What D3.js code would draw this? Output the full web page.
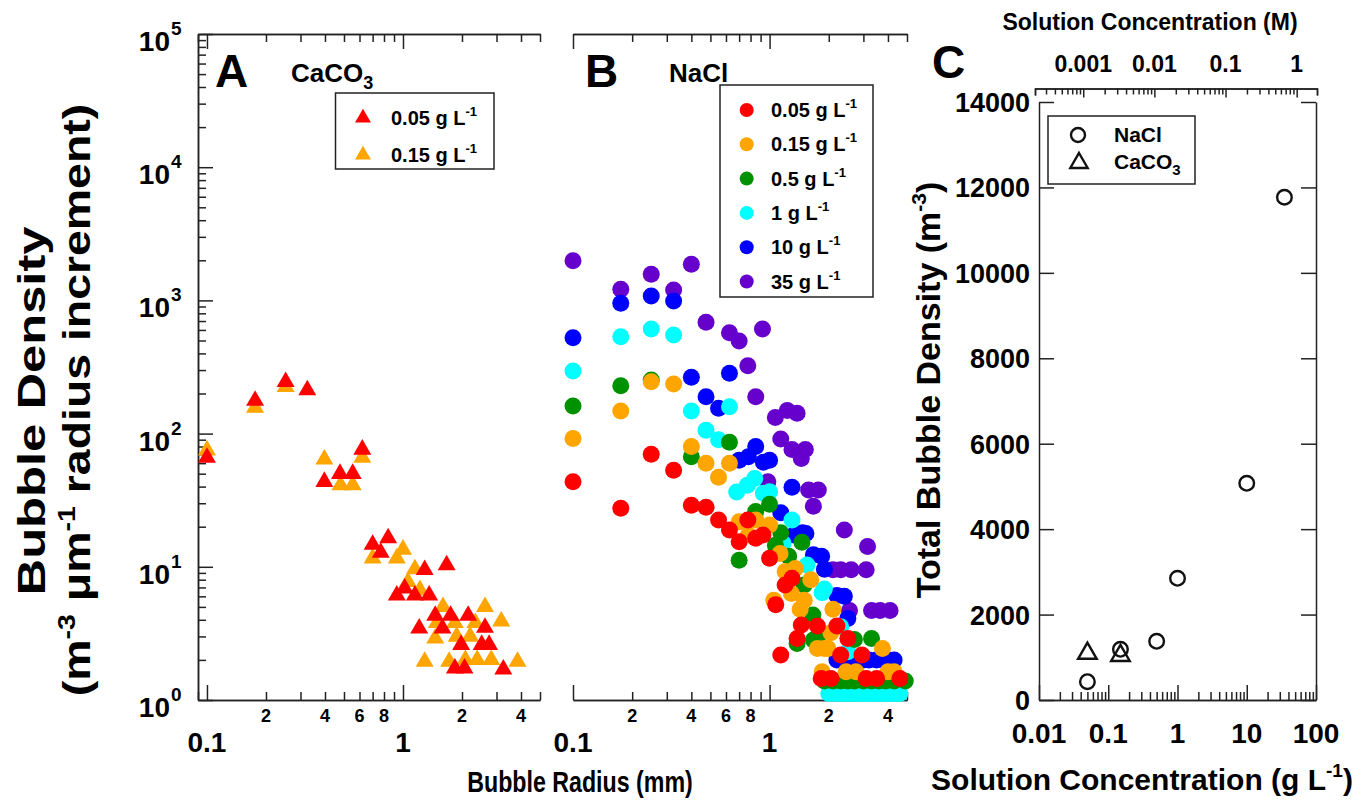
<!DOCTYPE html>
<html>
<head>
<meta charset="utf-8">
<script src="https://cdn.jsdelivr.net/npm/d3@7"></script>
<style>
  body { margin: 0; background: #fff; }
  text { font-family: "Liberation Sans", Arial, sans-serif; font-weight: bold; fill: #000; }
  .axis path, .axis line { stroke: #222; stroke-width: 1.5; }
</style>
</head>
<body>
<svg id="fig" width="1367" height="806"></svg>
<script>
// ---- panel A : CaCO3, [bubble radius mm, density] ----
var caco3_005 = [[0.1,66],[0.176,177],[0.252,245],[0.325,212],[0.397,43.5],[0.477,50],[0.554,50],[0.62,76],
  [0.70,14.7],[0.77,12.8],[0.84,16.4],[0.93,6.1],[1.02,6.9],[1.15,6.1],[1.29,9.5],[1.36,6.1],[1.21,3.45],
  [1.46,4.3],[1.59,3.45],[1.67,10.3],[1.75,4.3],[1.84,1.73],[1.98,2.6],[2.06,1.73],[2.15,4.3],[2.52,2.6],
  [2.62,3.5],[2.75,2.6],[3.25,1.7]];
var caco3_015 = [[0.1,75],[0.176,157],[0.252,225],[0.397,64],[0.48,41],[0.554,41],[0.62,66],[0.70,11.6],
  [0.93,11.6],[1.0,13.5],[1.06,7.7],[1.15,9.6],[1.22,6.7],[1.29,1.94],[1.46,2.9],[1.49,3.8],[1.6,5.0],
  [1.72,1.94],[1.84,3.8],[1.88,3.0],[2.08,2.0],[2.2,3.0],[2.34,3.8],[2.39,2.0],[2.62,5.0],[2.82,2.0],
  [3.17,3.9],[3.84,1.94]];

// ---- panel B : NaCl ----
var nacl_005 = [[0.1,43.5],[0.175,27.5],[0.25,70],[0.325,53],[0.4,29],[0.475,28],[0.55,22.5],[0.625,18.9],
  [0.7,15.4],[0.775,22.5],[0.85,16.4],[0.925,17.3],[1.0,11.6],[1.075,5.2],[1.14,2.18],[1.2,7.3],[1.3,8.2],
  [1.38,2.9],[1.45,3.65],[1.75,3.6],[1.83,1.45],[2.05,1.45],[2.2,3.6],[2.3,2.18],[2.5,2.9],[2.95,2.18],
  [3.1,1.45],[3.5,1.45],[4.6,1.45]];
var nacl_015 = [[0.1,92],[0.175,148],[0.25,245],[0.325,236],[0.4,80],[0.475,60],[0.55,47],[0.625,60],
  [0.7,21.8],[0.78,17.3],[0.85,22.5],[1.0,20.6],[1.05,5.6],[1.13,12.6],[1.2,9.2],[1.29,6.3],[1.35,9.7],
  [1.43,4.8],[1.5,5.6],[1.62,8.0],[1.75,2.44],[1.85,1.63],[1.9,2.44],[1.98,2.44],[2.05,3.2],[2.1,4.8],
  [2.45,1.63],[2.75,1.63],[3.75,2.44],[4.0,1.63],[4.3,1.63]];
var nacl_05 = [[0.1,161],[0.175,229],[0.25,253],[0.4,67],[0.625,86],[0.7,11.2],[0.85,26],[1.0,29.5],
  [1.07,14.5],[1.14,18],[1.25,12],[1.38,2.66],[1.46,15.3],[1.5,7.3],[1.66,4.35],[1.67,2.82],[1.75,2.9],
  [2.7,2.85],[3.3,2.9],[1.9,1.39],[2.1,1.39],[2.3,1.39],[2.5,1.39],[2.7,1.39],[3.0,1.39],[3.3,1.39],
  [3.6,1.39],[3.9,1.39],[4.3,1.39],[4.9,1.39]];
var nacl_1 = [[0.1,295],[0.175,534],[0.25,610],[0.325,550],[0.4,148],[0.475,106],[0.55,90],[0.625,159],
  [0.68,36.5],[0.77,41],[0.84,46],[0.93,35.6],[1.0,36.6],[1.17,15],[1.3,22.5],[1.55,10.3],[1.85,6.4],
  [1.9,6.8],[2.3,3.55],[2.5,2.3],[2.0,1.12],[2.15,1.12],[2.3,1.12],[2.45,1.12],[2.6,1.12],[2.75,1.12],
  [2.9,1.12],[3.05,1.12],[3.2,1.12],[3.4,1.12],[3.6,1.12],[3.8,1.12],[4.0,1.12],[4.2,1.12],[4.4,1.12],[4.6,1.12]];
var nacl_10 = [[0.1,525],[0.175,951],[0.25,1079],[0.325,989],[0.4,265],[0.475,189],[0.55,155],[0.625,284],
  [0.7,63],[0.78,67],[0.85,80],[0.93,61],[1.0,63],[1.14,25.5],[1.3,39.5],[1.33,17.3],[1.47,18],[1.53,17.8],
  [1.67,12.3],[1.84,12],[1.9,9.6],[2.2,6.1],[2.4,6.0],[2.5,4.1],[2.2,2.0],[2.4,2.0],[2.6,2.0],[2.8,2.0],
  [3.0,2.0],[3.2,2.0],[3.5,2.0],[3.8,2.0],[4.0,2.0],[4.3,2.0]];
var nacl_35 = [[0.1,1986],[0.175,1211],[0.25,1570],[0.325,1197],[0.4,1866],[0.475,685],[0.625,572],
  [0.7,496],[0.775,323],[0.85,189],[0.92,610],[0.98,43.5],[1.07,132],[1.14,91],[1.23,149],[1.3,76],
  [1.38,142],[1.45,65],[1.52,76],[1.58,37.7],[1.67,28.5],[1.77,37.7],[2.1,9.5],[2.3,9.5],[2.4,18.9],
  [2.6,9.5],[3.1,9.5],[3.15,14.2],[2.55,4.7],[3.3,4.7],[3.65,4.7],[4.1,4.7]];

var naclSeries = [nacl_005, nacl_015, nacl_05, nacl_1, nacl_10, nacl_35];
var naclLabels = ["0.05", "0.15", "0.5", "1", "10", "35"];
var naclColors = ["#ff0000", "#ffa500", "#009100", "#00ffff", "#0000ff", "#6600cc"];
var caco3Series = [caco3_005, caco3_015];
var caco3Labels = ["0.05", "0.15"];
var caco3Colors = ["#ff0000", "#ffa500"];

// ---- panel C : total bubble density vs concentration ----
var concNaCl = [0.05, 0.15, 0.5, 1, 10, 35];
var totalNaCl = [428, 1187, 1374, 2849, 5073, 11770];
var concCaCO3 = [0.05, 0.15];
var totalCaCO3 = [1090, 1040];
var topTickLabels = ["0.001", "0.01", "0.1", "1"];
var bottomTickLabelsC = ["0.01", "0.1", "1", "10", "100"];

var svg = d3.select("#fig");

// scales
var xA = d3.scaleLog().domain([0.09, 5]).range([198, 540]);
var xB = d3.scaleLog().domain([0.1, 5]).range([573, 907]);
var y = d3.scaleLog().domain([1, 1e5]).range([700, 34]);
var xC = d3.scaleLog().domain([0.01, 100]).range([1039, 1316]);
var yC = d3.scaleLinear().domain([0, 14000]).range([700, 102]);
var xM = d3.scaleLog().domain([0.00021, 1.93]).range([1035, 1317]);

function isMajor(t) { var l = Math.log10(t); return Math.abs(l - Math.round(l)) < 1e-6; }

function logAxis(axisFn, scale, g, major, minor) {
  var ticks = scale.ticks();
  g.append("g").attr("class", "axis")
    .call(axisFn(scale).tickValues(ticks.filter(function(t){ return !isMajor(t); }))
      .tickSize(minor).tickSizeOuter(0).tickFormat(""));
  g.append("g").attr("class", "axis")
    .call(axisFn(scale).tickValues(ticks.filter(isMajor))
      .tickSize(major).tickSizeOuter(0).tickFormat(""));
}

// ---------- panels A and B ----------
function radiusPanel(x, withLeft) {
  var g = svg.append("g");
  var bot = g.append("g").attr("transform", "translate(0,700)");
  logAxis(d3.axisBottom, x, bot, -15, -8);
  var top = g.append("g").attr("transform", "translate(0,34)");
  logAxis(d3.axisTop, x, top, -15, -8);
  if (withLeft) {
    var left = g.append("g").attr("transform", "translate(" + x.range()[0] + ",0)");
    logAxis(d3.axisLeft, y, left, -15, -8);
  }
  // tick labels
  [0.2, 0.4, 0.6, 0.8, 2, 4].forEach(function(v) {
    g.append("text").attr("x", x(v)).attr("y", 722).attr("text-anchor", "middle")
      .style("font-size", "18px").text(String(v).replace("0.", ""));
  });
  [0.1, 1].forEach(function(v) {
    g.append("text").attr("x", x(v)).attr("y", 752).attr("text-anchor", "middle")
      .style("font-size", "28px").text(v);
  });
  return g;
}

var gA = radiusPanel(xA, true);
var gB = radiusPanel(xB, false);

// y labels 10^n
[0, 1, 2, 3, 4, 5].forEach(function(e) {
  gA.append("text").attr("x", 170).attr("y", y(Math.pow(10, e)) + 17)
    .attr("text-anchor", "end").style("font-size", "28px").text("10");
  gA.append("text").attr("x", 171).attr("y", y(Math.pow(10, e)) + 1)
    .style("font-size", "19px").text(e);
});

// markers A
var tri = d3.symbol().type(d3.symbolTriangle).size(140);
caco3Series.slice().reverse().forEach(function(s, i) {
  var col = caco3Colors[caco3Series.length - 1 - i];
  gA.append("g").selectAll("path").data(s).enter().append("path")
    .attr("d", tri)
    .attr("transform", function(d) { return "translate(" + xA(d[0]) + "," + y(d[1]) + ")"; })
    .attr("fill", col);
});

// markers B, largest concentration drawn first
naclSeries.slice().reverse().forEach(function(s, i) {
  var col = naclColors[naclSeries.length - 1 - i];
  gB.append("g").selectAll("circle").data(s).enter().append("circle")
    .attr("cx", function(d) { return xB(d[0]); })
    .attr("cy", function(d) { return y(d[1]); })
    .attr("r", 8.5).attr("fill", col);
});

// panel letters and titles
svg.append("text").attr("x", 215).attr("y", 87).style("font-size", "46px").text("A");
svg.append("text").attr("x", 585).attr("y", 87).style("font-size", "46px").text("B");
svg.append("text").attr("x", 932).attr("y", 78).style("font-size", "46px").text("C");
var ca = svg.append("text").attr("x", 291).attr("y", 82).style("font-size", "26px").text("CaCO");
ca.append("tspan").attr("dy", 7).style("font-size", "18px").text("3");
svg.append("text").attr("x", 669).attr("y", 82).style("font-size", "26px").text("NaCl");

function gL(sel, label, size, supSize) {
  var t = sel.append("text").style("font-size", size + "px").text(label + " g L");
  t.append("tspan").attr("dy", -9).style("font-size", supSize + "px").text("-1");
  return t;
}

// legend A
svg.append("rect").attr("x", 335.5).attr("y", 93).attr("width", 158.5).attr("height", 76)
  .attr("fill", "#fff").attr("stroke", "#222").attr("stroke-width", 1.5);
var triL = d3.symbol().type(d3.symbolTriangle).size(110);
caco3Labels.forEach(function(l, i) {
  var cy = 118 + i * 37;
  svg.append("path").attr("d", triL).attr("transform", "translate(363," + cy + ")").attr("fill", caco3Colors[i]);
  gL(svg, l, 20, 13).attr("x", 391).attr("y", cy + 7);
});

// legend B
svg.append("rect").attr("x", 720).attr("y", 85).attr("width", 153).attr("height", 212)
  .attr("fill", "#fff").attr("stroke", "#222").attr("stroke-width", 1.5);
naclLabels.forEach(function(l, i) {
  var cy = 110 + i * 34.3;
  svg.append("circle").attr("cx", 746.7).attr("cy", cy).attr("r", 7).attr("fill", naclColors[i]);
  gL(svg, l, 20, 13).attr("x", 771).attr("y", cy + 7);
});

// axis titles A/B (glyphs stretched along the reading direction as in the source figure)
svg.append("text").attr("transform", "translate(580,792) scale(0.8,1)").attr("text-anchor", "middle")
  .style("font-size", "29px").text("Bubble Radius (mm)");
svg.append("text").attr("transform", "translate(45,411) rotate(-90) scale(1.3,1)")
  .attr("text-anchor", "middle").style("font-size", "39px").text("Bubble Density");
var yt2 = svg.append("text").attr("transform", "translate(90,400) rotate(-90) scale(1.19,1)")
  .attr("text-anchor", "middle").style("font-size", "39px").text("(m");
yt2.append("tspan").attr("dy", -15).style("font-size", "24px").text("-3");
yt2.append("tspan").attr("dy", 15).text(" \u03bcm");
yt2.append("tspan").attr("dy", -15).style("font-size", "24px").text("-1");
yt2.append("tspan").attr("dy", 15).text(" radius increment)");

// ---------- panel C ----------
var gC = svg.append("g");
var yTicksC = d3.range(0, 14001, 2000);
gC.append("g").attr("class", "axis").attr("transform", "translate(1039,0)")
  .call(d3.axisLeft(yC).tickValues(yTicksC).tickSize(-15).tickSizeOuter(0).tickFormat(""));
gC.append("g").attr("class", "axis").attr("transform", "translate(1316,0)")
  .call(d3.axisRight(yC).tickValues(yTicksC).tickSize(-15).tickSizeOuter(0).tickFormat(""));
var botC = gC.append("g").attr("transform", "translate(0,700)");
logAxis(d3.axisBottom, xC, botC, -15, -8);
var topM = gC.append("g").attr("transform", "translate(0,88.5)");
var mt = xM.ticks();
topM.append("g").attr("class", "axis")
  .call(d3.axisTop(xM).tickValues(mt.filter(function(t){ return !isMajor(t); }))
    .tickSize(-6).tickSizeOuter(-7).tickFormat(""));
topM.append("g").attr("class", "axis")
  .call(d3.axisTop(xM).tickValues(mt.filter(isMajor)).tickSize(-9).tickSizeOuter(-7).tickFormat(""));

yTicksC.forEach(function(v) {
  gC.append("text").attr("x", 1030).attr("y", yC(v) + 10).attr("text-anchor", "end")
    .style("font-size", "27px").text(v);
});
bottomTickLabelsC.forEach(function(l) {
  gC.append("text").attr("x", xC(+l)).attr("y", 743).attr("text-anchor", "middle")
    .style("font-size", "28px").text(l);
});
topTickLabels.forEach(function(l) {
  gC.append("text").attr("x", xM(+l)).attr("y", 72).attr("text-anchor", "middle")
    .style("font-size", "23px").text(l);
});
gC.append("text").attr("x", 1150).attr("y", 30).attr("text-anchor", "middle")
  .style("font-size", "23px").text("Solution Concentration (M)");
var xtC = gC.append("text").attr("x", 1142).attr("y", 790).attr("text-anchor", "middle")
  .style("font-size", "30px").text("Solution Concentration (g L");
xtC.append("tspan").attr("dy", -13).style("font-size", "19px").text("-1");
xtC.append("tspan").attr("dy", 13).text(")");
var ytC = gC.append("text").attr("transform", "translate(940,390) rotate(-90)")
  .attr("text-anchor", "middle").style("font-size", "34px").text("Total Bubble Density (m");
ytC.append("tspan").attr("dy", -14).style("font-size", "21px").text("-3");
ytC.append("tspan").attr("dy", 14).text(")");

// markers C
gC.append("g").selectAll("circle").data(concNaCl).enter().append("circle")
  .attr("cx", function(d) { return xC(d); })
  .attr("cy", function(d, i) { return yC(totalNaCl[i]); })
  .attr("r", 7.3).attr("fill", "none").attr("stroke", "#111").attr("stroke-width", 2.4);
var triC = d3.symbol().type(d3.symbolTriangle).size(150);
gC.append("g").selectAll("path").data(concCaCO3).enter().append("path")
  .attr("d", triC)
  .attr("transform", function(d, i) { return "translate(" + xC(d) + "," + yC(totalCaCO3[i]) + ")"; })
  .attr("fill", "none").attr("stroke", "#111").attr("stroke-width", 2.4);

// legend C
gC.append("rect").attr("x", 1048).attr("y", 116).attr("width", 147).attr("height", 68)
  .attr("fill", "#fff").attr("stroke", "#222").attr("stroke-width", 1.5);
gC.append("circle").attr("cx", 1078).attr("cy", 135).attr("r", 7).attr("fill", "none")
  .attr("stroke", "#111").attr("stroke-width", 2.4);
gC.append("path").attr("d", d3.symbol().type(d3.symbolTriangle).size(130))
  .attr("transform", "translate(1079,163)").attr("fill", "none").attr("stroke", "#111").attr("stroke-width", 2.4);
gC.append("text").attr("x", 1114).attr("y", 142).style("font-size", "21px").text("NaCl");
var caL = gC.append("text").attr("x", 1114).attr("y", 169).style("font-size", "21px").text("CaCO");
caL.append("tspan").attr("dy", 6).style("font-size", "15px").text("3");
</script>
</body>
</html>
